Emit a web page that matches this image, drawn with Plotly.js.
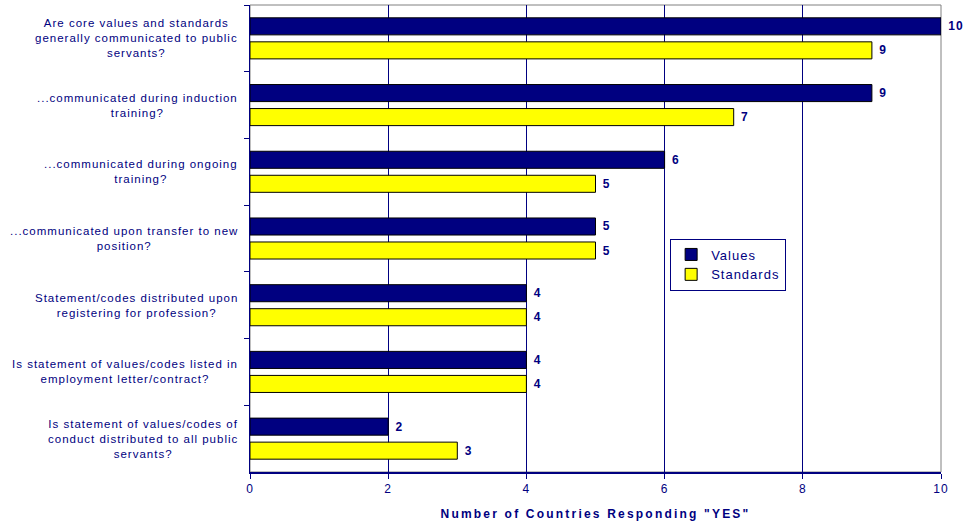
<!DOCTYPE html>
<html>
<head>
<meta charset="utf-8">
<script src="https://cdn.plot.ly/plotly-3.0.1.min.js"></script>
<style>
body{margin:0;padding:0;background:#fff;}
#chart{width:966px;height:525px;}
text{letter-spacing:1px;}
</style>
</head>
<body>
<div id="chart"></div>
<script>
const categories = [
  "Are core values and standards<br>generally communicated to public<br>servants?",
  "...communicated during induction<br>training?",
  "...communicated during ongoing<br>training?",
  "...communicated upon transfer to new<br>position?",
  "Statement/codes distributed upon<br>registering for profession?",
  "Is statement of values/codes listed in<br>employment letter/contract?",
  "Is statement of values/codes of<br>conduct distributed to all public<br>servants?"
];
const valuesSeries = [10, 9, 6, 5, 4, 4, 2];
const standardsSeries = [9, 7, 5, 5, 4, 4, 3];
const xTicks = [0, 2, 4, 6, 8, 10];

const navy = "#000080";

const traces = [
  {
    type: "bar", orientation: "h", name: "Values",
    y: categories, x: valuesSeries,
    marker: {color: navy, line: {color: "#000000", width: 1}},
    text: valuesSeries.map(String), textposition: "outside",
    textfont: {family: "Liberation Sans, Arial, sans-serif", size: 12, color: navy, weight: "bold"},
    texttemplate: "\u00a0<b>%{text}</b>",
    cliponaxis: false, constraintext: "none", hoverinfo: "none"
  },
  {
    type: "bar", orientation: "h", name: "Standards",
    y: categories, x: standardsSeries,
    marker: {color: "#FFFF00", line: {color: "#000000", width: 1}},
    text: standardsSeries.map(String), textposition: "outside",
    textfont: {family: "Liberation Sans, Arial, sans-serif", size: 12, color: navy, weight: "bold"},
    texttemplate: "\u00a0<b>%{text}</b>",
    cliponaxis: false, constraintext: "none", hoverinfo: "none"
  }
];

const annotations = categories.map(c => ({
  xref: "paper", yref: "y", x: -0.0145, y: c,
  xanchor: "right", yanchor: "middle", align: "center",
  text: c, showarrow: false,
  font: {family: "Liberation Sans, Arial, sans-serif", size: 11.5, color: navy}
}));

const layout = {
  width: 966, height: 525,
  margin: {l: 250, r: 25, t: 5, b: 53},
  paper_bgcolor: "#ffffff", plot_bgcolor: "#ffffff",
  barmode: "group", bargap: 0.28, bargroupgap: 0.29,
  showlegend: true,
  legend: {
    x: 0.608, xanchor: "left", y: 0.50, yanchor: "top",
    bgcolor: "#ffffff", bordercolor: navy, borderwidth: 1,
    font: {family: "Liberation Sans, Arial, sans-serif", size: 13, color: navy},
    itemwidth: 30, tracegroupgap: 0
  },
  xaxis: {
    range: [0, 10], tickvals: xTicks, ticktext: xTicks.map(String),
    showgrid: true, gridcolor: navy, gridwidth: 1,
    zeroline: false, showline: true, linecolor: navy, linewidth: 1.5,
    ticks: "outside", ticklen: 5, tickcolor: navy,
    tickfont: {family: "Liberation Sans, Arial, sans-serif", size: 12, color: navy},
    title: {
      text: '<b><span style="letter-spacing:2.2px">Number of Countries Responding "YES"</span></b>',
      font: {family: "Liberation Sans, Arial, sans-serif", size: 12, color: navy},
      standoff: 14
    },
    fixedrange: true
  },
  yaxis: {
    type: "category", autorange: "reversed",
    showticklabels: false, showgrid: false, zeroline: false,
    showline: true, linecolor: navy, linewidth: 1.5,
    ticks: "outside", tickson: "boundaries", ticklen: 5, tickcolor: navy,
    fixedrange: true
  },
  shapes: [{
    type: "rect", xref: "paper", yref: "paper", x0: 0, x1: 1, y0: 0, y1: 1,
    line: {color: "#808080", width: 1}, layer: "below"
  }],
  annotations: annotations
};

Plotly.newPlot("chart", traces, layout, {displayModeBar: false, staticPlot: true});
</script>
</body>
</html>
